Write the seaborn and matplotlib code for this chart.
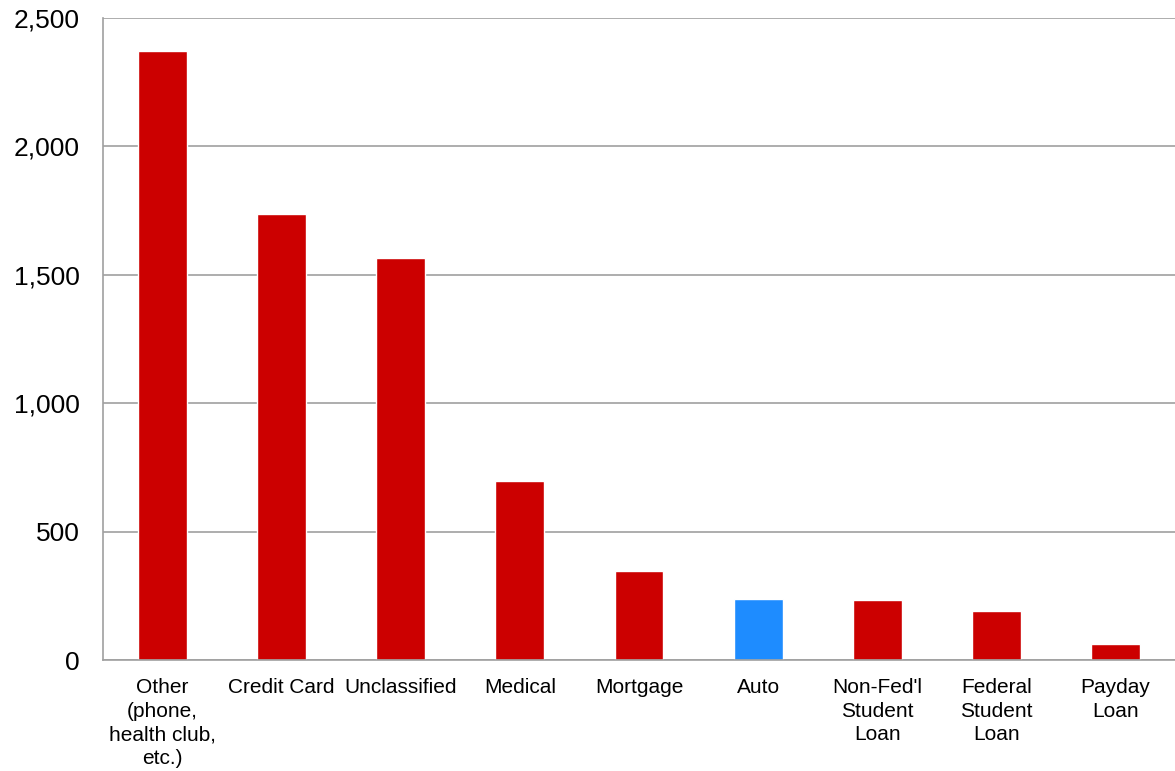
import matplotlib
matplotlib.use("Agg")
import matplotlib.pyplot as plt
import seaborn as sns
import pandas as pd

categories = ["Other\n(phone,\nhealth club,\netc.)", "Credit Card", "Unclassified", "Medical",
              "Mortgage", "Auto", "Non-Fed'l\nStudent\nLoan", "Federal\nStudent\nLoan", "Payday\nLoan"]
values = [2372, 1737, 1566, 697, 347, 238, 234, 189, 64]
colors = ["#CC0000", "#CC0000", "#CC0000", "#CC0000", "#CC0000", "#1E8CFF", "#CC0000", "#CC0000", "#CC0000"]
yticks = [0, 500, 1000, 1500, 2000, 2500]

sns.set_style("white")
plt.rcParams['font.family'] = ['Liberation Sans', 'DejaVu Sans']
plt.rcParams['text.color'] = 'black'
plt.rcParams['xtick.color'] = 'black'
plt.rcParams['ytick.color'] = 'black'

df = pd.DataFrame({"cat": categories, "val": values})

fig = plt.figure(figsize=(11.75, 7.71), dpi=100)
ax = fig.add_axes([103/1175, 111/771, 1 - 103/1175, (660-18)/771])

sns.barplot(data=df, x="cat", y="val", hue="cat", palette=colors, width=0.41,
            legend=False, ax=ax, saturation=1)

ax.set_ylim(0, 2500)
ax.set_xlim(-0.5, len(categories) - 0.5)
ax.set_yticks(yticks)
ax.set_yticklabels([f"{v:,}" for v in yticks], fontsize=19, color="black")
ax.set_xlabel("")
ax.set_ylabel("")
ax.set_axisbelow(True)
ax.yaxis.grid(True, color="#A0A0A0", linewidth=1.2)
ax.xaxis.grid(False)

# x ticks at category boundaries
ax.set_xticks([i - 0.5 for i in range(len(categories) + 1)], minor=False)
ax.set_xticklabels([])
ax.set_xticks(range(len(categories)), minor=True)
ax.set_xticklabels(categories, minor=True, fontsize=15, linespacing=1.31, va="top", color="black")
ax.tick_params(axis="x", which="minor", length=0, pad=13)
ax.tick_params(axis="x", which="major", length=4.5, color="#A0A0A0", width=1.2, direction="out")
ax.tick_params(axis="y", length=6, color="#A0A0A0", width=1.2, direction="out", pad=11)

for s in ["top", "right"]:
    ax.spines[s].set_visible(False)
for s in ["left", "bottom"]:
    ax.spines[s].set_color("#A0A0A0")
    ax.spines[s].set_linewidth(1.2)

fig.savefig("out.png", dpi=100)
